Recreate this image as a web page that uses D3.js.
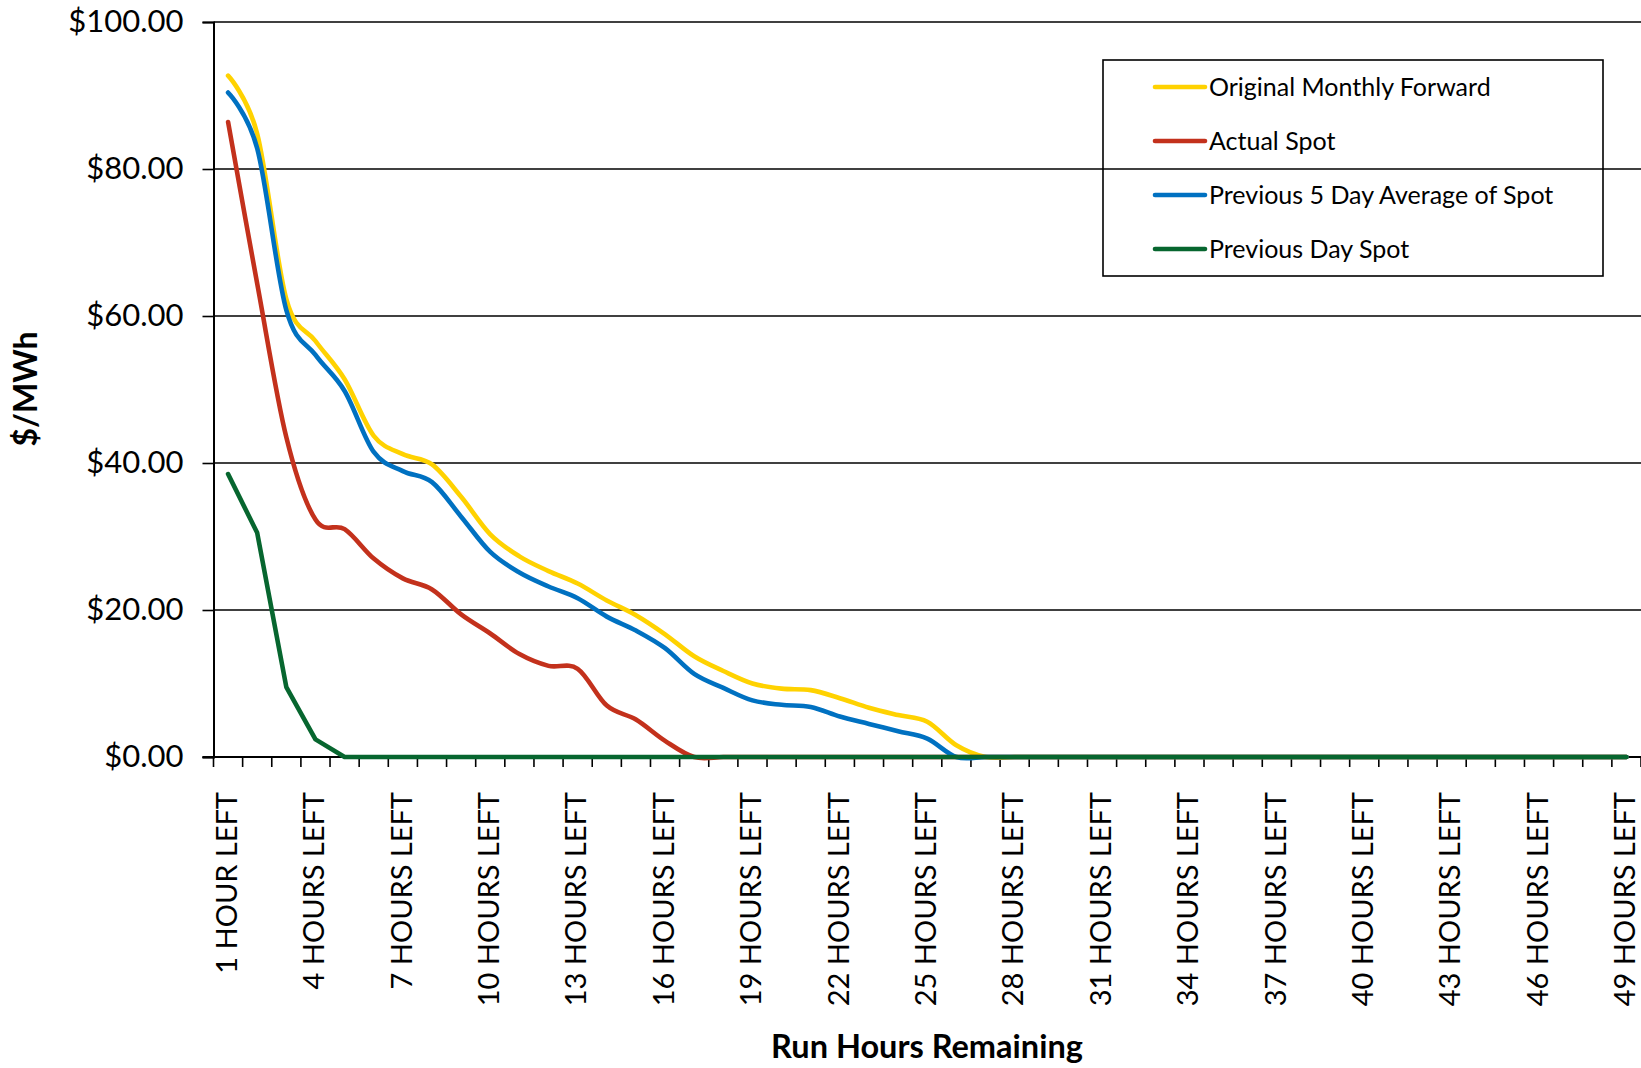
<!DOCTYPE html>
<html>
<head>
<meta charset="utf-8">
<script src="https://cdn.jsdelivr.net/npm/d3@7"></script>
<style>
  html, body { margin: 0; padding: 0; background: #fff; }
  svg { display: block; font-family: Lato, "Open Sans", sans-serif; }
</style>
</head>
<body>
<svg id="chart" width="1641" height="1068"></svg>
<script>
const categories = [
  "1 HOUR LEFT","2 HOURS LEFT","3 HOURS LEFT","4 HOURS LEFT","5 HOURS LEFT","6 HOURS LEFT","7 HOURS LEFT",
  "8 HOURS LEFT","9 HOURS LEFT","10 HOURS LEFT","11 HOURS LEFT","12 HOURS LEFT","13 HOURS LEFT","14 HOURS LEFT",
  "15 HOURS LEFT","16 HOURS LEFT","17 HOURS LEFT","18 HOURS LEFT","19 HOURS LEFT","20 HOURS LEFT","21 HOURS LEFT",
  "22 HOURS LEFT","23 HOURS LEFT","24 HOURS LEFT","25 HOURS LEFT","26 HOURS LEFT","27 HOURS LEFT","28 HOURS LEFT",
  "29 HOURS LEFT","30 HOURS LEFT","31 HOURS LEFT","32 HOURS LEFT","33 HOURS LEFT","34 HOURS LEFT","35 HOURS LEFT",
  "36 HOURS LEFT","37 HOURS LEFT","38 HOURS LEFT","39 HOURS LEFT","40 HOURS LEFT","41 HOURS LEFT","42 HOURS LEFT",
  "43 HOURS LEFT","44 HOURS LEFT","45 HOURS LEFT","46 HOURS LEFT","47 HOURS LEFT","48 HOURS LEFT","49 HOURS LEFT"
];
const tickLabels = [
  "1 HOUR LEFT","4 HOURS LEFT","7 HOURS LEFT","10 HOURS LEFT","13 HOURS LEFT","16 HOURS LEFT","19 HOURS LEFT",
  "22 HOURS LEFT","25 HOURS LEFT","28 HOURS LEFT","31 HOURS LEFT","34 HOURS LEFT","37 HOURS LEFT","40 HOURS LEFT",
  "43 HOURS LEFT","46 HOURS LEFT","49 HOURS LEFT"
];
const yTicks = [0, 20, 40, 60, 80, 100];

const originalMonthlyForward = [
  92.7, 84.8, 62.3, 56.6, 51.4, 43.7, 41.2, 39.8, 35.4, 30.3, 27.3, 25.3, 23.6, 21.3, 19.3, 16.7, 13.7,
  11.7, 10.0, 9.3, 9.1, 8.0, 6.7, 5.7, 4.8, 1.6, 0, 0, 0, 0, 0, 0, 0, 0, 0, 0, 0, 0, 0, 0, 0, 0, 0, 0, 0, 0, 0, 0, 0
];
const actualSpot = [
  86.4, 64.4, 43.5, 32.3, 31.0, 27.0, 24.3, 22.8, 19.4, 16.8, 14.0, 12.4, 12.0, 7.0, 5.1, 2.2, 0,
  0, 0, 0, 0, 0, 0, 0, 0, 0, 0, 0, 0, 0, 0, 0, 0, 0, 0, 0, 0, 0, 0, 0, 0, 0, 0, 0, 0, 0, 0, 0, 0
];
const previous5DayAverage = [
  90.4, 82.8, 60.8, 54.7, 49.8, 41.5, 38.9, 37.4, 32.7, 27.9, 25.1, 23.2, 21.6, 19.1, 17.2, 14.8, 11.3,
  9.4, 7.7, 7.1, 6.8, 5.5, 4.5, 3.5, 2.5, 0, 0, 0, 0, 0, 0, 0, 0, 0, 0, 0, 0, 0, 0, 0, 0, 0, 0, 0, 0, 0, 0, 0, 0
];
const previousDaySpot = [
  38.5, 30.5, 9.5, 2.4, 0, 0, 0, 0, 0, 0, 0, 0, 0, 0, 0, 0, 0,
  0, 0, 0, 0, 0, 0, 0, 0, 0, 0, 0, 0, 0, 0, 0, 0, 0, 0, 0, 0, 0, 0, 0, 0, 0, 0, 0, 0, 0, 0, 0, 0
];

const seriesNames = ["Original Monthly Forward", "Actual Spot", "Previous 5 Day Average of Spot", "Previous Day Spot"];
const seriesColors = ["#FFD200", "#C3311C", "#0071C1", "#07662F"];
const seriesData = [originalMonthlyForward, actualSpot, previous5DayAverage, previousDaySpot];
const seriesSmooth = [true, true, true, false];

(function () {
const svg = d3.select("#chart");
const pLeft = 213.5, pRight = 1641, pTop = 22, pBottom = 757;

const x = d3.scaleBand().domain(categories).range([pLeft, pRight]).paddingInner(0).paddingOuter(0);
const y = d3.scaleLinear().domain([0, 100]).range([pBottom, pTop]);
const cx = c => x(c) + x.bandwidth() / 2;

// gridlines
svg.append("g").selectAll("line").data(yTicks.filter(v => v > 0)).join("line")
  .attr("x1", pLeft).attr("x2", pRight)
  .attr("y1", d => y(d)).attr("y2", d => y(d))
  .attr("stroke", "#000").attr("stroke-width", 1.6);

// y axis
const yAxis = svg.append("g").attr("transform", `translate(${pLeft},0)`)
  .call(d3.axisLeft(y).tickValues(yTicks).tickSize(11).tickPadding(19).tickFormat(d3.format("$.2f")));
yAxis.select(".domain").attr("stroke", "#000").attr("stroke-width", 2);
yAxis.selectAll(".tick line").attr("stroke", "#000").attr("stroke-width", 1.6);
yAxis.selectAll(".tick text").attr("font-size", 31).attr("fill", "#000")
  .attr("font-family", "Lato, sans-serif");

// x axis line + boundary ticks
const boundaries = categories.map(c => x(c)).concat([x.range()[1]]);
svg.append("line").attr("x1", pLeft - 11).attr("x2", pRight).attr("y1", pBottom).attr("y2", pBottom)
  .attr("stroke", "#000").attr("stroke-width", 2);
svg.append("g").selectAll("line").data(boundaries).join("line")
  .attr("x1", d => d).attr("x2", d => d).attr("y1", pBottom).attr("y2", pBottom + 10)
  .attr("stroke", "#000").attr("stroke-width", 1.6);

// x tick labels
svg.append("g").selectAll("text").data(tickLabels).join("text")
  .attr("transform", d => `translate(${cx(d)},${pBottom + 35}) rotate(-90)`)
  .attr("text-anchor", "end").attr("dy", "0.3em")
  .attr("font-size", 29).attr("fill", "#000")
  .text(d => d);

// series
seriesData.forEach((vals, i) => {
  const line = d3.line()
    .x((d, j) => cx(categories[j]))
    .y(d => y(d))
    .curve(seriesSmooth[i] ? d3.curveCardinal.tension(0) : d3.curveLinear);
  svg.append("path").datum(vals)
    .attr("d", line)
    .attr("fill", "none")
    .attr("stroke", seriesColors[i])
    .attr("stroke-width", 4.6)
    .attr("stroke-linejoin", "round")
    .attr("stroke-linecap", "round");
});

// axis titles
svg.append("text").attr("transform", "translate(37,389) rotate(-90)")
  .attr("text-anchor", "middle").attr("font-weight", "bold").attr("font-size", 32)
  .attr("fill", "#000").text("$/MWh");
svg.append("text").attr("x", 927).attr("y", 1058)
  .attr("text-anchor", "middle").attr("font-weight", "bold").attr("font-size", 32.5)
  .attr("fill", "#000").text("Run Hours Remaining");

// legend
const lg = svg.append("g");
lg.append("rect").attr("x", 1103).attr("y", 60).attr("width", 500).attr("height", 216)
  .attr("fill", "none").attr("stroke", "#000").attr("stroke-width", 1.6);
const rowsY = [87, 141, 195, 249];
seriesNames.forEach((name, i) => {
  lg.append("line").attr("x1", 1155).attr("x2", 1205).attr("y1", rowsY[i]).attr("y2", rowsY[i])
    .attr("stroke", seriesColors[i]).attr("stroke-width", 4.6).attr("stroke-linecap", "round");
  lg.append("text").attr("x", 1209).attr("y", rowsY[i]).attr("dy", "0.36em")
    .attr("font-size", 25).attr("fill", "#000").text(name);
});
})();
</script>
</body>
</html>
